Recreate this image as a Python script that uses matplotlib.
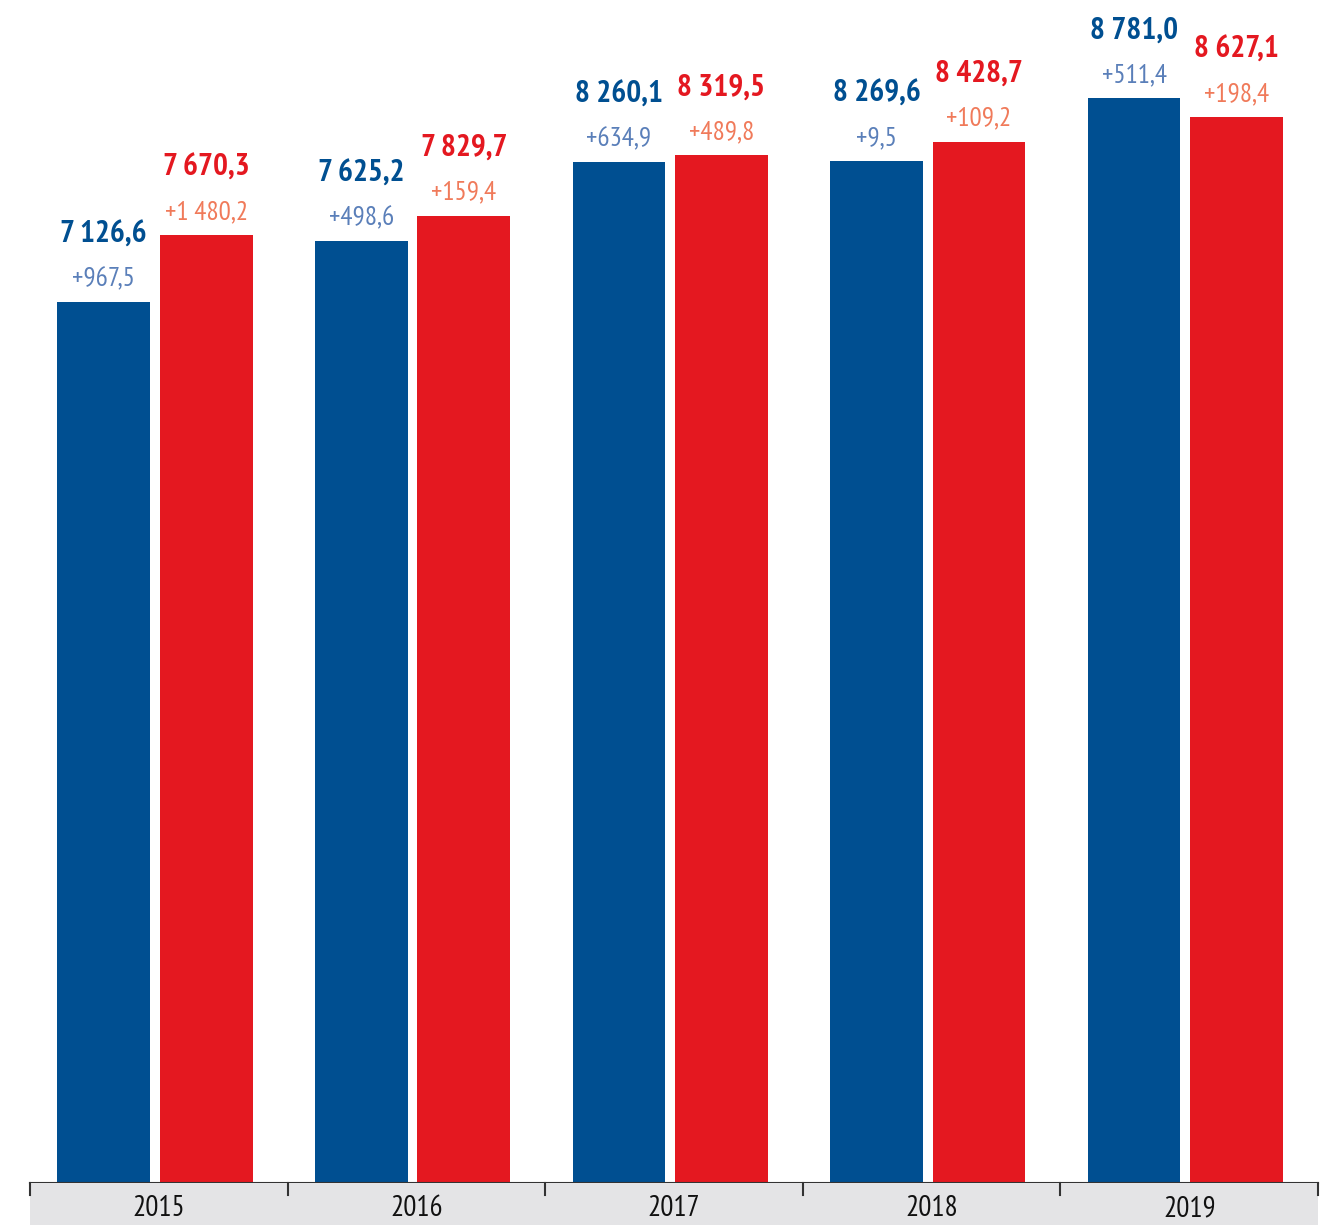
import matplotlib.pyplot as plt
from matplotlib.patches import Rectangle

years = ["2015", "2016", "2017", "2018", "2019"]
blue_values = [7126.6, 7625.2, 8260.1, 8269.6, 8781.0]
blue_changes = [967.5, 498.6, 634.9, 9.5, 511.4]
red_values = [7670.3, 7829.7, 8319.5, 8428.7, 8627.1]
red_changes = [1480.2, 159.4, 489.8, 109.2, 198.4]

BLUE = "#004f91"
RED = "#e41820"
BLUE_LIGHT = "#5a7fb9"
RED_LIGHT = "#f07a5a"

# narrow face first, condensed DejaVu as fallback
FAMILY = ["PT Sans Narrow", "Roboto Condensed", "DejaVu Sans"]
STRETCH = "condensed"


def fmt(v, sign=False):
    s = f"{v:,.1f}".replace(",", " ").replace(".", ",")
    return "+" + s if sign else s


fig = plt.figure(figsize=(13.28, 12.25), dpi=100)
W, H = 1328, 1225
ax_left, ax_right, ax_bottom = 30, 1318, 1183
ax = fig.add_axes([ax_left / W, (H - ax_bottom) / H, (ax_right - ax_left) / W, ax_bottom / H])

bar_w = 0.36
offset = 0.199
shift = -0.015
x = list(range(len(years)))
xb = [i + shift - offset for i in x]
xr = [i + shift + offset for i in x]

ax.bar(xb, blue_values, width=bar_w, color=BLUE, zorder=2)
ax.bar(xr, red_values, width=bar_w, color=RED, zorder=2)

ax.set_xlim(-0.5, len(years) - 0.5)
ax.set_ylim(0, 9574)
for s in ["top", "right", "left"]:
    ax.spines[s].set_visible(False)
ax.spines["bottom"].set_color("#333333")
ax.spines["bottom"].set_linewidth(1.5)
ax.set_yticks([])
ax.set_xticks([])

for xs, vals, chs, c1, c2 in [(xb, blue_values, blue_changes, BLUE, BLUE_LIGHT),
                              (xr, red_values, red_changes, RED, RED_LIGHT)]:
    for xi, v, ch in zip(xs, vals, chs):
        ax.annotate(fmt(ch, sign=True), (xi, v), xytext=(0, 16.5), textcoords="offset points",
                    ha="center", va="center", fontsize=19.5, color=c2,
                    family=FAMILY, fontstretch=STRETCH)
        ax.annotate(fmt(v), (xi, v), xytext=(0, 48.5), textcoords="offset points",
                    ha="center", va="center", fontsize=22.5, color=c1, fontweight="bold",
                    family=FAMILY, fontstretch=STRETCH)

# gray category band below the axis
band = Rectangle((ax_left / W, 0), (ax_right - ax_left) / W, (H - ax_bottom) / H,
                 transform=fig.transFigure, facecolor="#e4e4e6", edgecolor="none", zorder=0)
fig.patches.append(band)

group_w = (ax_right - ax_left) / len(years)
for i in range(len(years) + 1):
    xp = (ax_left + i * group_w) / W
    fig.add_artist(plt.Line2D([xp, xp], [(H - ax_bottom) / H, (H - ax_bottom - 12) / H],
                              transform=fig.transFigure, color="#333333", linewidth=1.5))
for i, yr in enumerate(years):
    xp = (ax_left + (i + 0.5) * group_w) / W
    fig.text(xp, (H - 1209) / H, yr, ha="center", va="center", fontsize=21,
             color="#111111", family=FAMILY, fontstretch=STRETCH)

fig.savefig("out.png", dpi=100)
